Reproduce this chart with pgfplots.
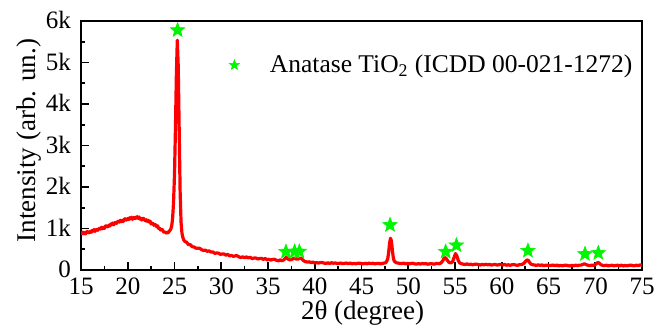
\documentclass[border=0pt]{standalone}
\usepackage{fontspec}
\setmainfont{Liberation Serif}
\usepackage{pgfplots}
\usepackage{pgfplotstable}
\pgfplotsset{compat=1.18}
\definecolor{curvered}{RGB}{255,0,0}
\definecolor{stargreen}{RGB}{0,245,0}

\pgfdeclareplotmark{fivestar}{%
  \pgfpathmoveto{\pgfpointpolar{90}{\pgfplotmarksize}}%
  \pgfpathlineto{\pgfpointpolar{126}{0.42\pgfplotmarksize}}%
  \pgfpathlineto{\pgfpointpolar{162}{\pgfplotmarksize}}%
  \pgfpathlineto{\pgfpointpolar{198}{0.42\pgfplotmarksize}}%
  \pgfpathlineto{\pgfpointpolar{234}{\pgfplotmarksize}}%
  \pgfpathlineto{\pgfpointpolar{270}{0.42\pgfplotmarksize}}%
  \pgfpathlineto{\pgfpointpolar{306}{\pgfplotmarksize}}%
  \pgfpathlineto{\pgfpointpolar{342}{0.42\pgfplotmarksize}}%
  \pgfpathlineto{\pgfpointpolar{18}{\pgfplotmarksize}}%
  \pgfpathlineto{\pgfpointpolar{54}{0.42\pgfplotmarksize}}%
  \pgfpathclose
  \pgfusepathqfillstroke
}

\pgfplotstableread{
x y
15.0 898
15.1 872
15.2 913
15.3 872
15.4 902
15.5 872
15.6 918
15.7 930
15.8 904
15.9 894
16.0 930
16.1 911
16.2 956
16.3 936
16.4 976
16.5 930
16.6 965
16.7 984
16.8 958
16.9 991
17.0 1008
17.1 986
17.2 1031
17.3 994
17.4 1028
17.5 1002
17.6 1052
17.7 1070
17.8 1046
17.9 1040
18.0 1080
18.1 1063
18.2 1110
18.3 1092
18.4 1134
18.5 1090
18.6 1127
18.7 1148
18.8 1124
18.9 1159
19.0 1178
19.1 1155
19.2 1199
19.3 1161
19.4 1194
19.5 1167
19.6 1216
19.7 1235
19.8 1208
19.9 1201
20.0 1240
20.1 1217
20.2 1259
20.3 1235
20.4 1272
20.5 1222
20.6 1254
20.7 1269
20.8 1240
20.9 1269
21.0 1283
21.1 1246
21.2 1277
21.3 1225
21.4 1245
21.5 1204
21.6 1240
21.7 1245
21.8 1205
21.9 1184
22.0 1210
22.1 1171
22.2 1196
22.3 1156
22.4 1176
22.5 1110
22.6 1125
22.7 1124
22.8 1078
22.9 1091
23.0 1088
23.1 1042
23.2 1063
23.3 1002
23.4 1012
23.5 962
23.6 988
23.7 970
23.8 934
23.9 904
24.0 920
24.1 891
24.2 915
24.3 895
24.4 925
24.5 950
24.6 985
24.7 1060
24.8 1250
24.9 1650
25.0 2300
25.1 3400
25.2 4700
25.3 5540
25.4 4900
25.5 3400
25.6 1900
25.7 1150
25.8 880
25.9 780
26.0 720
26.1 690
26.3 667
26.5 611
26.7 611
26.9 558
27.1 556
27.3 524
27.5 528
27.7 522
27.9 490
28.1 469
28.3 479
28.5 450
28.7 461
28.9 433
29.1 436
29.3 403
29.5 409
29.7 407
29.9 378
30.1 386
30.3 386
30.5 358
30.7 375
30.9 339
31.1 351
31.3 328
31.5 342
31.7 342
31.9 315
32.1 301
32.3 318
32.5 296
32.7 315
32.9 294
33.1 304
33.3 276
33.5 287
33.7 290
33.9 266
34.1 278
34.3 281
34.5 257
34.7 277
34.9 245
35.1 259
35.3 239
35.5 255
35.7 258
35.9 234
36.1 222
36.3 242
36.5 222
36.7 245
36.85 285
36.95 305
37.1 270
37.3 245
37.5 250
37.7 275
37.85 290
38.0 265
38.2 262
38.4 285
38.55 280
38.75 235
38.95 205
39.2 192
39.4 197
39.6 179
39.8 191
40.0 169
40.2 179
40.4 167
40.6 178
40.8 181
41.0 166
41.2 159
41.4 173
41.6 160
41.8 175
42.0 163
42.2 171
42.4 154
42.6 163
42.8 167
43.0 153
43.2 163
43.4 167
43.6 153
43.8 168
44.0 149
44.2 161
44.4 150
44.6 162
44.8 166
45.0 153
45.2 147
45.4 162
45.6 149
45.8 165
46.0 154
46.2 163
46.4 147
46.6 156
46.8 161
47.0 148
47.2 159
47.4 166
47.6 175
47.8 260
47.9 420
48.0 640
48.1 765
48.2 700
48.3 480
48.4 300
48.5 215
48.7 175
48.9 168
49.1 158
49.3 154
49.5 168
49.7 148
49.9 159
50.1 147
50.3 159
50.5 162
50.7 148
50.9 141
51.1 155
51.3 143
51.5 158
51.7 147
51.9 155
52.1 139
52.3 149
52.5 153
52.7 140
52.9 150
53.1 158
53.3 151
53.5 170
53.7 225
53.85 290
54.0 295
54.15 245
54.35 185
54.55 170
54.75 200
54.9 300
55.05 395
55.2 340
55.35 230
55.5 170
55.7 150
55.9 140
56.1 133
56.3 148
56.5 128
56.7 139
56.9 127
57.1 139
57.3 142
57.5 128
57.7 121
57.9 135
58.1 123
58.3 138
58.5 127
58.7 135
58.9 119
59.1 129
59.3 133
59.5 119
59.7 129
59.9 133
60.1 119
60.3 134
60.5 115
60.7 126
60.9 114
61.1 127
61.3 131
61.5 119
61.7 113
61.9 130
62.1 130
62.3 150
62.5 195
62.65 235
62.8 240
62.95 190
63.1 145
63.3 128
63.5 120
63.7 111
63.9 125
64.1 113
64.3 121
64.5 104
64.7 114
64.9 118
65.1 105
65.3 114
65.5 119
65.7 104
65.9 120
66.1 101
66.3 112
66.5 101
66.7 113
66.9 117
67.1 104
67.3 98
67.5 113
67.7 101
67.9 117
68.1 106
68.3 117
68.5 118
68.7 138
68.85 150
69.0 132
69.2 115
69.4 107
69.6 116
69.8 112
70.0 130
70.15 160
70.3 182
70.45 160
70.6 128
70.8 112
71.0 107
71.2 116
71.4 100
71.6 109
71.8 114
72.0 101
72.2 110
72.4 115
72.6 101
72.8 116
73.0 97
73.2 110
73.4 99
73.6 113
73.8 118
74.0 106
74.2 101
74.4 117
74.6 106
74.8 123
75.0 115
}\xrd

\pgfplotstableread{
x y
25.33 5780
36.92 440
37.85 445
38.35 445
48.05 1085
54.0 440
55.15 595
62.8 465
68.9 385
70.33 410
}\stars

\begin{document}
\begin{tikzpicture}
\begin{axis}[
  at={(0,0)}, anchor=south west,
  scale only axis, width=280.5pt, height=124.5pt,
  xmin=15, xmax=75, ymin=0, ymax=6000,
  xtick={15,20,...,75}, minor x tick num=1,
  ytick={0,1000,...,6000}, yticklabels={0,1k,2k,3k,4k,5k,6k},
  minor y tick num=1,
  scaled y ticks=false,
  tick pos=left, tick align=inside,
  major tick length=4pt, minor tick length=2pt,
  axis line style={line width=0.9pt},
  every tick/.style={black, line width=0.8pt},
  /pgf/number format/assume math mode=true,
  tick label style={font=\fontsize{12.5}{14}\selectfont},
  yticklabel style={xshift=-1.5pt, yshift=0.5pt},
  xticklabel style={yshift=-0.5pt},
  xlabel={2θ (degree)}, ylabel={Intensity (arb. un.)},
  xlabel style={at={(axis description cs:0.502,-0.172)}, anchor=center, inner sep=0pt, font=\fontsize{13.5}{15}\selectfont},
  ylabel style={at={(axis description cs:-0.093,0.52)}, anchor=center, inner sep=0pt, font=\fontsize{13.5}{15}\selectfont},
  legend style={draw=none, fill=none, at={(axis description cs:0.262,0.823)}, anchor=west, inner sep=0pt, font=\fontsize{12.75}{14}\selectfont},
  legend image code/.code={\path (0cm,0cm) (0.65cm,0cm); \draw[#1, mark size=2.6pt] plot coordinates {(0.1cm,0cm)};},
]
\addplot[curvered, line width=1.6pt, line join=round, forget plot] table[x=x,y=y] {\xrd};
\addplot[only marks, mark=fivestar, mark size=3.8pt, draw=stargreen, fill=stargreen, line width=0.3pt] table[x=x,y=y] {\stars};
\addlegendentry{Anatase TiO\textsubscript{2} (ICDD 00-021-1272)}
\end{axis}
\pgfresetboundingbox
\path[use as bounding box] (-40.5pt,-28.5pt) rectangle (288pt,135pt);
\end{tikzpicture}
\end{document}
